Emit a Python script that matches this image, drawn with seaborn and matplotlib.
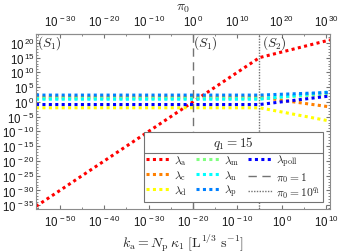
import numpy as np
import seaborn as sns
import matplotlib.pyplot as plt
from matplotlib.lines import Line2D
from matplotlib.ticker import FixedLocator, FuncFormatter, NullFormatter

sns.set_style("white")
plt.rcParams['font.family'] = ['Liberation Sans', 'DejaVu Sans']
plt.rcParams['mathtext.fontset'] = 'cm'

# log10 of k_a at the break points (pi0 = k_a * 1e20, break at pi0 = 10^q1)
log_ka = [-55.4, -5, 10.9]
q1 = 15

# log10 of the rates at those points
lam_a = [-35.4, 15, 21.0]
lam_c = [1.6, 1.6, -1.7]
lam_d = [-2.0, -2.0, -6.5]
lam_m = [1.2, 1.2, 2.6]
lam_n = [0.9, 0.9, 3.4]
lam_p = [2.3, 2.3, 3.2]
lam_poll = [-0.9, -0.9, 2.0]

series = [
    (r'$\lambda_\mathrm{a}$', lam_a, '#ff0000'),
    (r'$\lambda_\mathrm{c}$', lam_c, '#ff8000'),
    (r'$\lambda_\mathrm{d}$', lam_d, '#ffff00'),
    (r'$\lambda_\mathrm{m}$', lam_m, '#80ff80'),
    (r'$\lambda_\mathrm{n}$', lam_n, '#00ffff'),
    (r'$\lambda_\mathrm{p}$', lam_p, '#0080ff'),
    (r'$\lambda_\mathrm{poll}$', lam_poll, '#0000ff'),
]

fig = plt.figure(figsize=(3.38, 2.53), dpi=100)
ax = fig.add_axes([36 / 338, 1 - 210 / 253, 294 / 338, 175 / 253])

ka = 10.0 ** np.array(log_ka)
for name, vals, col in series:
    sns.lineplot(x=ka, y=10.0 ** np.array(vals), color=col, lw=2.2,
                 linestyle=(0, (1, 1.1)), label=name, ax=ax)

ax.axvline(1e-20, color='0.45', lw=1, ls=(0, (6, 4)), label=r'$\pi_0 = 1$')
ax.axvline(10.0 ** (q1 - 20), color='0.45', lw=1, ls=(0, (1, 1)),
           label=r'$\pi_0 = 10^{q_1}$')

ax.set_xscale('log')
ax.set_yscale('log')
ax.set_xlim(10.0 ** -55.4, 10.0 ** 10.9)
ax.set_ylim(10.0 ** -36.3, 10.0 ** 23)

fmt = FuncFormatter(lambda v, p: r'$\mathregular{10^{\,%d}}$' % round(np.log10(v)))
ax.xaxis.set_major_locator(FixedLocator([10.0 ** e for e in range(-50, 11, 10)]))
ax.xaxis.set_minor_locator(FixedLocator([10.0 ** e for e in range(-55, 11, 5)]))
ax.yaxis.set_major_locator(FixedLocator([10.0 ** e for e in range(-35, 21, 5)]))
ax.yaxis.set_minor_locator(FixedLocator([10.0 ** e for e in range(-36, 23)]))
ax.xaxis.set_major_formatter(fmt)
ax.yaxis.set_major_formatter(fmt)
ax.xaxis.set_minor_formatter(NullFormatter())
ax.yaxis.set_minor_formatter(NullFormatter())
ax.tick_params(which='both', direction='in', labelsize=8.3, colors='0.45',
               labelcolor='0.1', right=True, left=True, bottom=True)
ax.tick_params(which='major', length=3)
ax.tick_params(which='minor', length=1.5)
ax.tick_params(axis='y', pad=1)
for s in ax.spines.values():
    s.set_color('0.55')
    s.set_linewidth(0.8)

ax.set_xlabel(r'$k_\mathrm{a} = N_\mathrm{p}\,\kappa_1\ [\mathrm{L}^{1/3}\ \mathrm{s}^{-1}]$',
              fontsize=10, labelpad=2)

top = ax.secondary_xaxis('top', functions=(lambda x: x * 1e20, lambda x: x / 1e20))
top.set_xscale('log')
top.xaxis.set_major_locator(FixedLocator([10.0 ** e for e in range(-30, 31, 10)]))
top.xaxis.set_minor_locator(FixedLocator([10.0 ** e for e in range(-35, 31, 5)]))
top.xaxis.set_major_formatter(fmt)
top.xaxis.set_minor_formatter(NullFormatter())
top.tick_params(which='both', direction='in', labelsize=8.3, colors='0.45', labelcolor='0.1')
top.tick_params(which='major', length=3)
top.tick_params(which='minor', length=1.5)
top.set_xlabel(r'$\pi_0$', fontsize=10, labelpad=3)
top.spines['top'].set_color('0.55')

for xa, txt in [(0.004, r'$(S_1)$'), (0.535, r'$(S_1)$'), (0.77, r'$(S_2)$')]:
    ax.text(xa, 0.955, txt, transform=ax.transAxes, fontsize=9.5, va='center', ha='left')

leg = ax.legend(ncol=3, loc='lower right', bbox_to_anchor=(0.976, 0.04),
                title=r'$q_1 = 15$', title_fontsize=9.5, fontsize=8.3,
                frameon=True, fancybox=False, edgecolor='0.45', framealpha=1,
                handlelength=2.2, handletextpad=0.25, columnspacing=0.75,
                labelspacing=0.1, borderpad=0.2, borderaxespad=0)
leg.get_frame().set_linewidth(0.8)

fig.canvas.draw()
inv = fig.transFigure.inverted()
lb = leg.get_window_extent()
tb = leg.get_title().get_window_extent()
ysep = tb.y0 - 2
(x0, y0), (x1, _) = inv.transform([(lb.x0, ysep), (lb.x1, ysep)])
fig.add_artist(Line2D([x0, x1], [y0, y0], color='0.45', lw=0.8, transform=fig.transFigure))

fig.savefig('out.png', dpi=100)
